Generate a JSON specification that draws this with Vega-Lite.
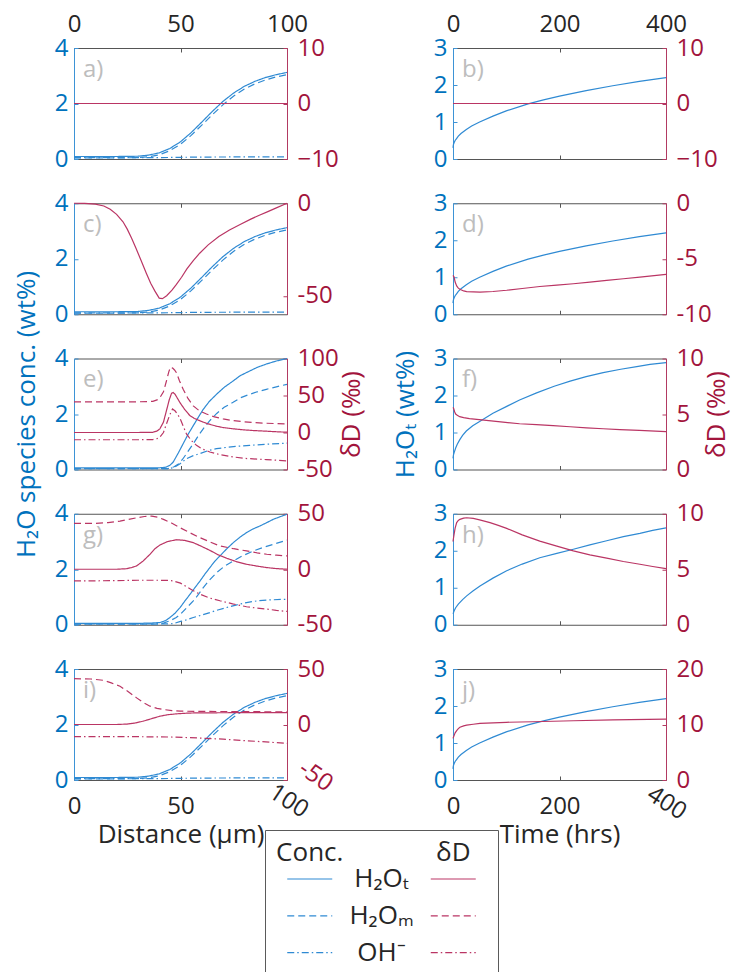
{
  "$schema": "https://vega.github.io/schema/vega-lite/v6.json",
  "background": "white",
  "padding": {"left": 13, "top": 12, "right": 5, "bottom": 5},
  "data": {"values": [
    {"p":"aci","q":"c","s":"H2Ot","x":0,"v":0.09},{"p":"aci","q":"c","s":"H2Ot","x":10,"v":0.09},{"p":"aci","q":"c","s":"H2Ot","x":20,"v":0.09},{"p":"aci","q":"c","s":"H2Ot","x":30,"v":0.1},{"p":"aci","q":"c","s":"H2Ot","x":35,"v":0.14},{"p":"aci","q":"c","s":"H2Ot","x":40,"v":0.22},{"p":"aci","q":"c","s":"H2Ot","x":45,"v":0.38},{"p":"aci","q":"c","s":"H2Ot","x":50,"v":0.62},{"p":"aci","q":"c","s":"H2Ot","x":55,"v":0.95},{"p":"aci","q":"c","s":"H2Ot","x":60,"v":1.33},{"p":"aci","q":"c","s":"H2Ot","x":65,"v":1.72},{"p":"aci","q":"c","s":"H2Ot","x":70,"v":2.08},{"p":"aci","q":"c","s":"H2Ot","x":75,"v":2.38},{"p":"aci","q":"c","s":"H2Ot","x":80,"v":2.62},{"p":"aci","q":"c","s":"H2Ot","x":85,"v":2.8},{"p":"aci","q":"c","s":"H2Ot","x":90,"v":2.94},{"p":"aci","q":"c","s":"H2Ot","x":95,"v":3.04},{"p":"aci","q":"c","s":"H2Ot","x":100,"v":3.12},
    {"p":"aci","q":"c","s":"H2Om","x":0,"v":0.04},{"p":"aci","q":"c","s":"H2Om","x":20,"v":0.04},{"p":"aci","q":"c","s":"H2Om","x":30,"v":0.05},{"p":"aci","q":"c","s":"H2Om","x":35,"v":0.08},{"p":"aci","q":"c","s":"H2Om","x":40,"v":0.15},{"p":"aci","q":"c","s":"H2Om","x":45,"v":0.3},{"p":"aci","q":"c","s":"H2Om","x":50,"v":0.53},{"p":"aci","q":"c","s":"H2Om","x":55,"v":0.85},{"p":"aci","q":"c","s":"H2Om","x":60,"v":1.22},{"p":"aci","q":"c","s":"H2Om","x":65,"v":1.6},{"p":"aci","q":"c","s":"H2Om","x":70,"v":1.96},{"p":"aci","q":"c","s":"H2Om","x":75,"v":2.27},{"p":"aci","q":"c","s":"H2Om","x":80,"v":2.52},{"p":"aci","q":"c","s":"H2Om","x":85,"v":2.71},{"p":"aci","q":"c","s":"H2Om","x":90,"v":2.85},{"p":"aci","q":"c","s":"H2Om","x":95,"v":2.96},{"p":"aci","q":"c","s":"H2Om","x":100,"v":3.04},
    {"p":"aci","q":"c","s":"OH","x":0,"v":0.05},{"p":"aci","q":"c","s":"OH","x":40,"v":0.05},{"p":"aci","q":"c","s":"OH","x":60,"v":0.07},{"p":"aci","q":"c","s":"OH","x":100,"v":0.08},
    {"p":"a","q":"d","s":"H2Ot","x":0,"v":0},{"p":"a","q":"d","s":"H2Ot","x":100,"v":0},
    {"p":"c","q":"d","s":"H2Ot","x":0,"v":0},{"p":"c","q":"d","s":"H2Ot","x":5,"v":-0.1},{"p":"c","q":"d","s":"H2Ot","x":10,"v":-0.5},{"p":"c","q":"d","s":"H2Ot","x":14,"v":-1.5},{"p":"c","q":"d","s":"H2Ot","x":17,"v":-3.2},{"p":"c","q":"d","s":"H2Ot","x":20,"v":-6},{"p":"c","q":"d","s":"H2Ot","x":23,"v":-10},{"p":"c","q":"d","s":"H2Ot","x":25,"v":-14},{"p":"c","q":"d","s":"H2Ot","x":27,"v":-18.8},{"p":"c","q":"d","s":"H2Ot","x":29,"v":-24},{"p":"c","q":"d","s":"H2Ot","x":31.5,"v":-31},{"p":"c","q":"d","s":"H2Ot","x":34,"v":-38},{"p":"c","q":"d","s":"H2Ot","x":36,"v":-43.3},{"p":"c","q":"d","s":"H2Ot","x":38,"v":-47.5},{"p":"c","q":"d","s":"H2Ot","x":40,"v":-51.3},{"p":"c","q":"d","s":"H2Ot","x":41.5,"v":-51.6},{"p":"c","q":"d","s":"H2Ot","x":43.5,"v":-50},{"p":"c","q":"d","s":"H2Ot","x":46,"v":-47},{"p":"c","q":"d","s":"H2Ot","x":48,"v":-44},{"p":"c","q":"d","s":"H2Ot","x":50.5,"v":-40},{"p":"c","q":"d","s":"H2Ot","x":53,"v":-35.5},{"p":"c","q":"d","s":"H2Ot","x":56,"v":-31},{"p":"c","q":"d","s":"H2Ot","x":59,"v":-27},{"p":"c","q":"d","s":"H2Ot","x":63,"v":-22.5},{"p":"c","q":"d","s":"H2Ot","x":68,"v":-18},{"p":"c","q":"d","s":"H2Ot","x":73,"v":-14.5},{"p":"c","q":"d","s":"H2Ot","x":78,"v":-11.5},{"p":"c","q":"d","s":"H2Ot","x":83,"v":-8.6},{"p":"c","q":"d","s":"H2Ot","x":87,"v":-6.5},{"p":"c","q":"d","s":"H2Ot","x":91,"v":-4.5},{"p":"c","q":"d","s":"H2Ot","x":95,"v":-2.5},{"p":"c","q":"d","s":"H2Ot","x":100,"v":0},
    {"p":"e","q":"c","s":"H2Ot","x":0,"v":0.06},{"p":"e","q":"c","s":"H2Ot","x":40,"v":0.06},{"p":"e","q":"c","s":"H2Ot","x":43,"v":0.08},{"p":"e","q":"c","s":"H2Ot","x":45,"v":0.15},{"p":"e","q":"c","s":"H2Ot","x":46.6,"v":0.27},{"p":"e","q":"c","s":"H2Ot","x":49,"v":0.6},{"p":"e","q":"c","s":"H2Ot","x":51.25,"v":0.93},{"p":"e","q":"c","s":"H2Ot","x":53.5,"v":1.26},{"p":"e","q":"c","s":"H2Ot","x":56,"v":1.58},{"p":"e","q":"c","s":"H2Ot","x":58.5,"v":1.9},{"p":"e","q":"c","s":"H2Ot","x":60.6,"v":2.16},{"p":"e","q":"c","s":"H2Ot","x":63.5,"v":2.45},{"p":"e","q":"c","s":"H2Ot","x":66.9,"v":2.71},{"p":"e","q":"c","s":"H2Ot","x":70.5,"v":2.96},{"p":"e","q":"c","s":"H2Ot","x":74.7,"v":3.19},{"p":"e","q":"c","s":"H2Ot","x":78,"v":3.38},{"p":"e","q":"c","s":"H2Ot","x":82.5,"v":3.55},{"p":"e","q":"c","s":"H2Ot","x":86,"v":3.68},{"p":"e","q":"c","s":"H2Ot","x":90.3,"v":3.8},{"p":"e","q":"c","s":"H2Ot","x":95,"v":3.91},{"p":"e","q":"c","s":"H2Ot","x":100,"v":4.0},
    {"p":"e","q":"c","s":"H2Om","x":0,"v":0.03},{"p":"e","q":"c","s":"H2Om","x":44,"v":0.03},{"p":"e","q":"c","s":"H2Om","x":47,"v":0.1},{"p":"e","q":"c","s":"H2Om","x":49,"v":0.2},{"p":"e","q":"c","s":"H2Om","x":51,"v":0.37},{"p":"e","q":"c","s":"H2Om","x":52.8,"v":0.57},{"p":"e","q":"c","s":"H2Om","x":56,"v":0.93},{"p":"e","q":"c","s":"H2Om","x":59,"v":1.29},{"p":"e","q":"c","s":"H2Om","x":61.5,"v":1.55},{"p":"e","q":"c","s":"H2Om","x":63.75,"v":1.76},{"p":"e","q":"c","s":"H2Om","x":67,"v":2.02},{"p":"e","q":"c","s":"H2Om","x":70.5,"v":2.24},{"p":"e","q":"c","s":"H2Om","x":74.7,"v":2.42},{"p":"e","q":"c","s":"H2Om","x":78,"v":2.58},{"p":"e","q":"c","s":"H2Om","x":82.5,"v":2.71},{"p":"e","q":"c","s":"H2Om","x":86,"v":2.8},{"p":"e","q":"c","s":"H2Om","x":90.3,"v":2.89},{"p":"e","q":"c","s":"H2Om","x":95,"v":2.98},{"p":"e","q":"c","s":"H2Om","x":100,"v":3.07},
    {"p":"e","q":"c","s":"OH","x":0,"v":0.03},{"p":"e","q":"c","s":"OH","x":44,"v":0.03},{"p":"e","q":"c","s":"OH","x":47,"v":0.07},{"p":"e","q":"c","s":"OH","x":50,"v":0.22},{"p":"e","q":"c","s":"OH","x":52.8,"v":0.39},{"p":"e","q":"c","s":"OH","x":56,"v":0.5},{"p":"e","q":"c","s":"OH","x":59,"v":0.57},{"p":"e","q":"c","s":"OH","x":63,"v":0.68},{"p":"e","q":"c","s":"OH","x":66.9,"v":0.75},{"p":"e","q":"c","s":"OH","x":72,"v":0.8},{"p":"e","q":"c","s":"OH","x":77,"v":0.84},{"p":"e","q":"c","s":"OH","x":82.5,"v":0.87},{"p":"e","q":"c","s":"OH","x":90,"v":0.91},{"p":"e","q":"c","s":"OH","x":100,"v":0.95},
    {"p":"e","q":"d","s":"H2Ot","x":0,"v":0},{"p":"e","q":"d","s":"H2Ot","x":30,"v":0},{"p":"e","q":"d","s":"H2Ot","x":37,"v":0.3},{"p":"e","q":"d","s":"H2Ot","x":39,"v":2},{"p":"e","q":"d","s":"H2Ot","x":40.3,"v":4.9},{"p":"e","q":"d","s":"H2Ot","x":42,"v":14},{"p":"e","q":"d","s":"H2Ot","x":43.4,"v":29.5},{"p":"e","q":"d","s":"H2Ot","x":44.7,"v":44},{"p":"e","q":"d","s":"H2Ot","x":45.8,"v":53},{"p":"e","q":"d","s":"H2Ot","x":46.6,"v":54},{"p":"e","q":"d","s":"H2Ot","x":47.5,"v":51.5},{"p":"e","q":"d","s":"H2Ot","x":48.5,"v":46.5},{"p":"e","q":"d","s":"H2Ot","x":49.7,"v":40.6},{"p":"e","q":"d","s":"H2Ot","x":52,"v":31},{"p":"e","q":"d","s":"H2Ot","x":54.4,"v":22.8},{"p":"e","q":"d","s":"H2Ot","x":56.5,"v":19},{"p":"e","q":"d","s":"H2Ot","x":59,"v":16},{"p":"e","q":"d","s":"H2Ot","x":62.5,"v":12},{"p":"e","q":"d","s":"H2Ot","x":66.9,"v":8.5},{"p":"e","q":"d","s":"H2Ot","x":70,"v":6.7},{"p":"e","q":"d","s":"H2Ot","x":74.7,"v":5},{"p":"e","q":"d","s":"H2Ot","x":80,"v":3.5},{"p":"e","q":"d","s":"H2Ot","x":85,"v":2.5},{"p":"e","q":"d","s":"H2Ot","x":90.3,"v":1.8},{"p":"e","q":"d","s":"H2Ot","x":95,"v":1},{"p":"e","q":"d","s":"H2Ot","x":100,"v":0.4},
    {"p":"e","q":"d","s":"H2Om","x":0,"v":41.5},{"p":"e","q":"d","s":"H2Om","x":30,"v":41.5},{"p":"e","q":"d","s":"H2Om","x":37,"v":42},{"p":"e","q":"d","s":"H2Om","x":39,"v":44},{"p":"e","q":"d","s":"H2Om","x":40.3,"v":47},{"p":"e","q":"d","s":"H2Om","x":42,"v":55},{"p":"e","q":"d","s":"H2Om","x":43.4,"v":69.6},{"p":"e","q":"d","s":"H2Om","x":44.5,"v":82},{"p":"e","q":"d","s":"H2Om","x":45.3,"v":88.4},{"p":"e","q":"d","s":"H2Om","x":46.3,"v":87},{"p":"e","q":"d","s":"H2Om","x":47.2,"v":84.5},{"p":"e","q":"d","s":"H2Om","x":48.1,"v":80.8},{"p":"e","q":"d","s":"H2Om","x":49.5,"v":70},{"p":"e","q":"d","s":"H2Om","x":51.25,"v":58.5},{"p":"e","q":"d","s":"H2Om","x":53.5,"v":46},{"p":"e","q":"d","s":"H2Om","x":56,"v":36},{"p":"e","q":"d","s":"H2Om","x":59,"v":29},{"p":"e","q":"d","s":"H2Om","x":62.2,"v":25},{"p":"e","q":"d","s":"H2Om","x":66,"v":21},{"p":"e","q":"d","s":"H2Om","x":70,"v":18.5},{"p":"e","q":"d","s":"H2Om","x":74.7,"v":16},{"p":"e","q":"d","s":"H2Om","x":80,"v":14.5},{"p":"e","q":"d","s":"H2Om","x":85,"v":13.3},{"p":"e","q":"d","s":"H2Om","x":90.3,"v":12.5},{"p":"e","q":"d","s":"H2Om","x":100,"v":11.6},
    {"p":"e","q":"d","s":"OH","x":0,"v":-9.8},{"p":"e","q":"d","s":"OH","x":30,"v":-9.8},{"p":"e","q":"d","s":"OH","x":37,"v":-9.5},{"p":"e","q":"d","s":"OH","x":39,"v":-8.3},{"p":"e","q":"d","s":"OH","x":40.3,"v":-6.25},{"p":"e","q":"d","s":"OH","x":42,"v":0},{"p":"e","q":"d","s":"OH","x":43.4,"v":11.6},{"p":"e","q":"d","s":"OH","x":45,"v":24},{"p":"e","q":"d","s":"OH","x":46.25,"v":31.7},{"p":"e","q":"d","s":"OH","x":47.5,"v":29},{"p":"e","q":"d","s":"OH","x":48.5,"v":25},{"p":"e","q":"d","s":"OH","x":49.7,"v":19.6},{"p":"e","q":"d","s":"OH","x":51.2,"v":9},{"p":"e","q":"d","s":"OH","x":52.8,"v":-1.8},{"p":"e","q":"d","s":"OH","x":55,"v":-10.5},{"p":"e","q":"d","s":"OH","x":57.5,"v":-17.4},{"p":"e","q":"d","s":"OH","x":60,"v":-22},{"p":"e","q":"d","s":"OH","x":63.75,"v":-26.3},{"p":"e","q":"d","s":"OH","x":68,"v":-29.5},{"p":"e","q":"d","s":"OH","x":74.7,"v":-33},{"p":"e","q":"d","s":"OH","x":80,"v":-35},{"p":"e","q":"d","s":"OH","x":90.3,"v":-36.6},{"p":"e","q":"d","s":"OH","x":100,"v":-38.4},
    {"p":"g","q":"c","s":"H2Ot","x":0,"v":0.05},{"p":"g","q":"c","s":"H2Ot","x":30,"v":0.05},{"p":"g","q":"c","s":"H2Ot","x":35.7,"v":0.06},{"p":"g","q":"c","s":"H2Ot","x":40.4,"v":0.08},{"p":"g","q":"c","s":"H2Ot","x":43,"v":0.15},{"p":"g","q":"c","s":"H2Ot","x":45,"v":0.26},{"p":"g","q":"c","s":"H2Ot","x":47.5,"v":0.42},{"p":"g","q":"c","s":"H2Ot","x":49.8,"v":0.62},{"p":"g","q":"c","s":"H2Ot","x":52,"v":0.85},{"p":"g","q":"c","s":"H2Ot","x":54.5,"v":1.1},{"p":"g","q":"c","s":"H2Ot","x":56.8,"v":1.34},{"p":"g","q":"c","s":"H2Ot","x":59.2,"v":1.58},{"p":"g","q":"c","s":"H2Ot","x":61.5,"v":1.83},{"p":"g","q":"c","s":"H2Ot","x":63.8,"v":2.06},{"p":"g","q":"c","s":"H2Ot","x":66,"v":2.28},{"p":"g","q":"c","s":"H2Ot","x":68.5,"v":2.48},{"p":"g","q":"c","s":"H2Ot","x":71.5,"v":2.72},{"p":"g","q":"c","s":"H2Ot","x":74.8,"v":2.96},{"p":"g","q":"c","s":"H2Ot","x":78,"v":3.16},{"p":"g","q":"c","s":"H2Ot","x":81,"v":3.32},{"p":"g","q":"c","s":"H2Ot","x":84,"v":3.45},{"p":"g","q":"c","s":"H2Ot","x":87.3,"v":3.56},{"p":"g","q":"c","s":"H2Ot","x":90.5,"v":3.68},{"p":"g","q":"c","s":"H2Ot","x":93.6,"v":3.8},{"p":"g","q":"c","s":"H2Ot","x":97,"v":3.9},{"p":"g","q":"c","s":"H2Ot","x":100,"v":3.98},
    {"p":"g","q":"c","s":"H2Om","x":0,"v":0.02},{"p":"g","q":"c","s":"H2Om","x":38,"v":0.02},{"p":"g","q":"c","s":"H2Om","x":42,"v":0.06},{"p":"g","q":"c","s":"H2Om","x":45,"v":0.14},{"p":"g","q":"c","s":"H2Om","x":48,"v":0.26},{"p":"g","q":"c","s":"H2Om","x":50,"v":0.38},{"p":"g","q":"c","s":"H2Om","x":53,"v":0.62},{"p":"g","q":"c","s":"H2Om","x":56,"v":0.86},{"p":"g","q":"c","s":"H2Om","x":58.5,"v":1.1},{"p":"g","q":"c","s":"H2Om","x":60.7,"v":1.34},{"p":"g","q":"c","s":"H2Om","x":63.5,"v":1.6},{"p":"g","q":"c","s":"H2Om","x":67,"v":1.88},{"p":"g","q":"c","s":"H2Om","x":70.5,"v":2.1},{"p":"g","q":"c","s":"H2Om","x":74.8,"v":2.3},{"p":"g","q":"c","s":"H2Om","x":79,"v":2.48},{"p":"g","q":"c","s":"H2Om","x":84.2,"v":2.66},{"p":"g","q":"c","s":"H2Om","x":89,"v":2.79},{"p":"g","q":"c","s":"H2Om","x":93.6,"v":2.9},{"p":"g","q":"c","s":"H2Om","x":100,"v":3.05},
    {"p":"g","q":"c","s":"OH","x":0,"v":0.03},{"p":"g","q":"c","s":"OH","x":45,"v":0.03},{"p":"g","q":"c","s":"OH","x":47,"v":0.05},{"p":"g","q":"c","s":"OH","x":50,"v":0.12},{"p":"g","q":"c","s":"OH","x":53,"v":0.18},{"p":"g","q":"c","s":"OH","x":56,"v":0.26},{"p":"g","q":"c","s":"OH","x":60,"v":0.35},{"p":"g","q":"c","s":"OH","x":63.8,"v":0.44},{"p":"g","q":"c","s":"OH","x":67.5,"v":0.53},{"p":"g","q":"c","s":"OH","x":71.7,"v":0.62},{"p":"g","q":"c","s":"OH","x":76,"v":0.71},{"p":"g","q":"c","s":"OH","x":81,"v":0.8},{"p":"g","q":"c","s":"OH","x":86,"v":0.86},{"p":"g","q":"c","s":"OH","x":90.5,"v":0.89},{"p":"g","q":"c","s":"OH","x":100,"v":0.92},
    {"p":"g","q":"d","s":"H2Ot","x":0,"v":0},{"p":"g","q":"d","s":"H2Ot","x":20,"v":0},{"p":"g","q":"d","s":"H2Ot","x":24.7,"v":0.5},{"p":"g","q":"d","s":"H2Ot","x":27,"v":1.5},{"p":"g","q":"d","s":"H2Ot","x":29.4,"v":3},{"p":"g","q":"d","s":"H2Ot","x":32.5,"v":7.5},{"p":"g","q":"d","s":"H2Ot","x":35.7,"v":13.5},{"p":"g","q":"d","s":"H2Ot","x":38,"v":18.5},{"p":"g","q":"d","s":"H2Ot","x":40.4,"v":21.9},{"p":"g","q":"d","s":"H2Ot","x":44,"v":25},{"p":"g","q":"d","s":"H2Ot","x":48.2,"v":26.6},{"p":"g","q":"d","s":"H2Ot","x":52,"v":26},{"p":"g","q":"d","s":"H2Ot","x":56,"v":24},{"p":"g","q":"d","s":"H2Ot","x":60,"v":20.5},{"p":"g","q":"d","s":"H2Ot","x":63.8,"v":17},{"p":"g","q":"d","s":"H2Ot","x":67.5,"v":13.2},{"p":"g","q":"d","s":"H2Ot","x":71.7,"v":9.9},{"p":"g","q":"d","s":"H2Ot","x":76,"v":7},{"p":"g","q":"d","s":"H2Ot","x":81,"v":4.5},{"p":"g","q":"d","s":"H2Ot","x":86,"v":2.8},{"p":"g","q":"d","s":"H2Ot","x":90.5,"v":1.5},{"p":"g","q":"d","s":"H2Ot","x":95,"v":0.6},{"p":"g","q":"d","s":"H2Ot","x":100,"v":0},
    {"p":"g","q":"d","s":"H2Om","x":0,"v":41.3},{"p":"g","q":"d","s":"H2Om","x":10,"v":41.3},{"p":"g","q":"d","s":"H2Om","x":16,"v":42},{"p":"g","q":"d","s":"H2Om","x":21.6,"v":43.4},{"p":"g","q":"d","s":"H2Om","x":25.5,"v":44.8},{"p":"g","q":"d","s":"H2Om","x":29.4,"v":46.4},{"p":"g","q":"d","s":"H2Om","x":33,"v":47.5},{"p":"g","q":"d","s":"H2Om","x":36.5,"v":47.9},{"p":"g","q":"d","s":"H2Om","x":39.5,"v":46.8},{"p":"g","q":"d","s":"H2Om","x":42,"v":44.9},{"p":"g","q":"d","s":"H2Om","x":46,"v":41.5},{"p":"g","q":"d","s":"H2Om","x":49.8,"v":37.4},{"p":"g","q":"d","s":"H2Om","x":54.5,"v":32.8},{"p":"g","q":"d","s":"H2Om","x":59.2,"v":28.4},{"p":"g","q":"d","s":"H2Om","x":64,"v":24.5},{"p":"g","q":"d","s":"H2Om","x":68.5,"v":21},{"p":"g","q":"d","s":"H2Om","x":75,"v":18.5},{"p":"g","q":"d","s":"H2Om","x":81,"v":16.5},{"p":"g","q":"d","s":"H2Om","x":86,"v":14.8},{"p":"g","q":"d","s":"H2Om","x":90.5,"v":13.5},{"p":"g","q":"d","s":"H2Om","x":95,"v":12.7},{"p":"g","q":"d","s":"H2Om","x":100,"v":12},
    {"p":"g","q":"d","s":"OH","x":0,"v":-10.5},{"p":"g","q":"d","s":"OH","x":20,"v":-10.3},{"p":"g","q":"d","s":"OH","x":30,"v":-9.9},{"p":"g","q":"d","s":"OH","x":40,"v":-9.9},{"p":"g","q":"d","s":"OH","x":44,"v":-10.1},{"p":"g","q":"d","s":"OH","x":46.6,"v":-10.5},{"p":"g","q":"d","s":"OH","x":50,"v":-12.5},{"p":"g","q":"d","s":"OH","x":52.9,"v":-15.9},{"p":"g","q":"d","s":"OH","x":56,"v":-19.3},{"p":"g","q":"d","s":"OH","x":59.2,"v":-22.5},{"p":"g","q":"d","s":"OH","x":63.5,"v":-25.8},{"p":"g","q":"d","s":"OH","x":68.5,"v":-28.4},{"p":"g","q":"d","s":"OH","x":74.5,"v":-31.2},{"p":"g","q":"d","s":"OH","x":81,"v":-33.8},{"p":"g","q":"d","s":"OH","x":86,"v":-35},{"p":"g","q":"d","s":"OH","x":90.5,"v":-35.9},{"p":"g","q":"d","s":"OH","x":95,"v":-37},{"p":"g","q":"d","s":"OH","x":100,"v":-38},
    {"p":"i","q":"d","s":"H2Om","x":0,"v":41.3},{"p":"i","q":"d","s":"H2Om","x":8,"v":41},{"p":"i","q":"d","s":"H2Om","x":13.8,"v":39.8},{"p":"i","q":"d","s":"H2Om","x":17.5,"v":37.5},{"p":"i","q":"d","s":"H2Om","x":21.6,"v":34.4},{"p":"i","q":"d","s":"H2Om","x":25.5,"v":29.5},{"p":"i","q":"d","s":"H2Om","x":29.4,"v":24},{"p":"i","q":"d","s":"H2Om","x":32.5,"v":19.8},{"p":"i","q":"d","s":"H2Om","x":35.7,"v":16.5},{"p":"i","q":"d","s":"H2Om","x":39,"v":14.5},{"p":"i","q":"d","s":"H2Om","x":42,"v":13.5},{"p":"i","q":"d","s":"H2Om","x":46,"v":12.5},{"p":"i","q":"d","s":"H2Om","x":49.8,"v":12},{"p":"i","q":"d","s":"H2Om","x":60,"v":11.8},{"p":"i","q":"d","s":"H2Om","x":80,"v":11.6},{"p":"i","q":"d","s":"H2Om","x":100,"v":11.4},
    {"p":"i","q":"d","s":"H2Ot","x":0,"v":0},{"p":"i","q":"d","s":"H2Ot","x":20,"v":0},{"p":"i","q":"d","s":"H2Ot","x":25,"v":0.4},{"p":"i","q":"d","s":"H2Ot","x":28.5,"v":1.3},{"p":"i","q":"d","s":"H2Ot","x":32.5,"v":3},{"p":"i","q":"d","s":"H2Ot","x":36.5,"v":5.3},{"p":"i","q":"d","s":"H2Ot","x":40.4,"v":7.5},{"p":"i","q":"d","s":"H2Ot","x":44,"v":8.8},{"p":"i","q":"d","s":"H2Ot","x":48.2,"v":9.6},{"p":"i","q":"d","s":"H2Ot","x":52,"v":10.1},{"p":"i","q":"d","s":"H2Ot","x":56,"v":10.4},{"p":"i","q":"d","s":"H2Ot","x":70,"v":10.6},{"p":"i","q":"d","s":"H2Ot","x":100,"v":10.7},
    {"p":"i","q":"d","s":"OH","x":0,"v":-11},{"p":"i","q":"d","s":"OH","x":30,"v":-11},{"p":"i","q":"d","s":"OH","x":47,"v":-11.3},{"p":"i","q":"d","s":"OH","x":60,"v":-12.3},{"p":"i","q":"d","s":"OH","x":70,"v":-13.2},{"p":"i","q":"d","s":"OH","x":80,"v":-14.5},{"p":"i","q":"d","s":"OH","x":90,"v":-15.7},{"p":"i","q":"d","s":"OH","x":100,"v":-17},
    {"p":"bdj","q":"c","s":"H2Ot","x":0,"v":0.3},{"p":"bdj","q":"c","s":"H2Ot","x":0.5,"v":0.36},{"p":"bdj","q":"c","s":"H2Ot","x":1,"v":0.4},{"p":"bdj","q":"c","s":"H2Ot","x":2,"v":0.44},{"p":"bdj","q":"c","s":"H2Ot","x":4,"v":0.5},{"p":"bdj","q":"c","s":"H2Ot","x":7,"v":0.56},{"p":"bdj","q":"c","s":"H2Ot","x":10,"v":0.62},{"p":"bdj","q":"c","s":"H2Ot","x":15,"v":0.69},{"p":"bdj","q":"c","s":"H2Ot","x":25,"v":0.8},{"p":"bdj","q":"c","s":"H2Ot","x":35,"v":0.89},{"p":"bdj","q":"c","s":"H2Ot","x":50,"v":1.0},{"p":"bdj","q":"c","s":"H2Ot","x":75,"v":1.16},{"p":"bdj","q":"c","s":"H2Ot","x":100,"v":1.3},{"p":"bdj","q":"c","s":"H2Ot","x":141,"v":1.49},{"p":"bdj","q":"c","s":"H2Ot","x":170,"v":1.6},{"p":"bdj","q":"c","s":"H2Ot","x":200,"v":1.7},{"p":"bdj","q":"c","s":"H2Ot","x":250,"v":1.85},{"p":"bdj","q":"c","s":"H2Ot","x":300,"v":1.98},{"p":"bdj","q":"c","s":"H2Ot","x":350,"v":2.1},{"p":"bdj","q":"c","s":"H2Ot","x":400,"v":2.2},
    {"p":"b","q":"d","s":"H2Ot","x":0,"v":0},{"p":"b","q":"d","s":"H2Ot","x":400,"v":0},
    {"p":"d","q":"d","s":"H2Ot","x":0,"v":-6.5},{"p":"d","q":"d","s":"H2Ot","x":2,"v":-6.65},{"p":"d","q":"d","s":"H2Ot","x":4,"v":-7.1},{"p":"d","q":"d","s":"H2Ot","x":6.9,"v":-7.45},{"p":"d","q":"d","s":"H2Ot","x":10,"v":-7.65},{"p":"d","q":"d","s":"H2Ot","x":13,"v":-7.75},{"p":"d","q":"d","s":"H2Ot","x":20,"v":-7.9},{"p":"d","q":"d","s":"H2Ot","x":25.7,"v":-7.96},{"p":"d","q":"d","s":"H2Ot","x":50.7,"v":-8.0},{"p":"d","q":"d","s":"H2Ot","x":75,"v":-7.95},{"p":"d","q":"d","s":"H2Ot","x":100.8,"v":-7.84},{"p":"d","q":"d","s":"H2Ot","x":130,"v":-7.68},{"p":"d","q":"d","s":"H2Ot","x":163,"v":-7.5},{"p":"d","q":"d","s":"H2Ot","x":195,"v":-7.37},{"p":"d","q":"d","s":"H2Ot","x":226,"v":-7.25},{"p":"d","q":"d","s":"H2Ot","x":257,"v":-7.1},{"p":"d","q":"d","s":"H2Ot","x":288.6,"v":-6.95},{"p":"d","q":"d","s":"H2Ot","x":320,"v":-6.8},{"p":"d","q":"d","s":"H2Ot","x":351,"v":-6.65},{"p":"d","q":"d","s":"H2Ot","x":400,"v":-6.4},
    {"p":"f","q":"c","s":"H2Ot","x":0,"v":0.3},{"p":"f","q":"c","s":"H2Ot","x":1,"v":0.4},{"p":"f","q":"c","s":"H2Ot","x":2,"v":0.45},{"p":"f","q":"c","s":"H2Ot","x":5,"v":0.58},{"p":"f","q":"c","s":"H2Ot","x":8,"v":0.68},{"p":"f","q":"c","s":"H2Ot","x":12.5,"v":0.8},{"p":"f","q":"c","s":"H2Ot","x":18,"v":0.92},{"p":"f","q":"c","s":"H2Ot","x":25,"v":1.04},{"p":"f","q":"c","s":"H2Ot","x":37,"v":1.18},{"p":"f","q":"c","s":"H2Ot","x":50,"v":1.3},{"p":"f","q":"c","s":"H2Ot","x":75,"v":1.52},{"p":"f","q":"c","s":"H2Ot","x":100,"v":1.7},{"p":"f","q":"c","s":"H2Ot","x":125,"v":1.88},{"p":"f","q":"c","s":"H2Ot","x":157,"v":2.07},{"p":"f","q":"c","s":"H2Ot","x":190,"v":2.25},{"p":"f","q":"c","s":"H2Ot","x":220,"v":2.39},{"p":"f","q":"c","s":"H2Ot","x":250,"v":2.51},{"p":"f","q":"c","s":"H2Ot","x":282,"v":2.62},{"p":"f","q":"c","s":"H2Ot","x":315,"v":2.71},{"p":"f","q":"c","s":"H2Ot","x":345,"v":2.78},{"p":"f","q":"c","s":"H2Ot","x":370,"v":2.84},{"p":"f","q":"c","s":"H2Ot","x":400,"v":2.89},
    {"p":"f","q":"d","s":"H2Ot","x":0,"v":5.6},{"p":"f","q":"d","s":"H2Ot","x":1.25,"v":5.5},{"p":"f","q":"d","s":"H2Ot","x":3,"v":5.2},{"p":"f","q":"d","s":"H2Ot","x":5,"v":5.0},{"p":"f","q":"d","s":"H2Ot","x":8,"v":4.88},{"p":"f","q":"d","s":"H2Ot","x":12.5,"v":4.76},{"p":"f","q":"d","s":"H2Ot","x":20,"v":4.67},{"p":"f","q":"d","s":"H2Ot","x":31,"v":4.58},{"p":"f","q":"d","s":"H2Ot","x":62.7,"v":4.42},{"p":"f","q":"d","s":"H2Ot","x":94,"v":4.27},{"p":"f","q":"d","s":"H2Ot","x":125,"v":4.12},{"p":"f","q":"d","s":"H2Ot","x":156.7,"v":4.04},{"p":"f","q":"d","s":"H2Ot","x":188,"v":3.95},{"p":"f","q":"d","s":"H2Ot","x":220,"v":3.85},{"p":"f","q":"d","s":"H2Ot","x":250.8,"v":3.75},{"p":"f","q":"d","s":"H2Ot","x":282,"v":3.67},{"p":"f","q":"d","s":"H2Ot","x":313.5,"v":3.6},{"p":"f","q":"d","s":"H2Ot","x":350,"v":3.52},{"p":"f","q":"d","s":"H2Ot","x":400,"v":3.42},
    {"p":"h","q":"c","s":"H2Ot","x":0,"v":0.3},{"p":"h","q":"c","s":"H2Ot","x":1,"v":0.33},{"p":"h","q":"c","s":"H2Ot","x":2,"v":0.37},{"p":"h","q":"c","s":"H2Ot","x":5,"v":0.46},{"p":"h","q":"c","s":"H2Ot","x":10,"v":0.56},{"p":"h","q":"c","s":"H2Ot","x":18,"v":0.68},{"p":"h","q":"c","s":"H2Ot","x":25.7,"v":0.78},{"p":"h","q":"c","s":"H2Ot","x":38,"v":0.92},{"p":"h","q":"c","s":"H2Ot","x":50.7,"v":1.05},{"p":"h","q":"c","s":"H2Ot","x":75,"v":1.26},{"p":"h","q":"c","s":"H2Ot","x":100.8,"v":1.46},{"p":"h","q":"c","s":"H2Ot","x":130,"v":1.64},{"p":"h","q":"c","s":"H2Ot","x":163,"v":1.81},{"p":"h","q":"c","s":"H2Ot","x":195,"v":1.93},{"p":"h","q":"c","s":"H2Ot","x":226,"v":2.04},{"p":"h","q":"c","s":"H2Ot","x":257,"v":2.16},{"p":"h","q":"c","s":"H2Ot","x":288.6,"v":2.27},{"p":"h","q":"c","s":"H2Ot","x":320,"v":2.38},{"p":"h","q":"c","s":"H2Ot","x":351,"v":2.47},{"p":"h","q":"c","s":"H2Ot","x":375,"v":2.55},{"p":"h","q":"c","s":"H2Ot","x":400,"v":2.62},
    {"p":"h","q":"d","s":"H2Ot","x":0,"v":7.5},{"p":"h","q":"d","s":"H2Ot","x":2,"v":8.14},{"p":"h","q":"d","s":"H2Ot","x":4,"v":8.7},{"p":"h","q":"d","s":"H2Ot","x":6.9,"v":9.2},{"p":"h","q":"d","s":"H2Ot","x":10,"v":9.4},{"p":"h","q":"d","s":"H2Ot","x":13,"v":9.5},{"p":"h","q":"d","s":"H2Ot","x":20,"v":9.6},{"p":"h","q":"d","s":"H2Ot","x":25.7,"v":9.64},{"p":"h","q":"d","s":"H2Ot","x":38,"v":9.58},{"p":"h","q":"d","s":"H2Ot","x":50,"v":9.45},{"p":"h","q":"d","s":"H2Ot","x":69.5,"v":9.2},{"p":"h","q":"d","s":"H2Ot","x":85,"v":8.95},{"p":"h","q":"d","s":"H2Ot","x":100.8,"v":8.68},{"p":"h","q":"d","s":"H2Ot","x":130,"v":8.1},{"p":"h","q":"d","s":"H2Ot","x":163,"v":7.54},{"p":"h","q":"d","s":"H2Ot","x":195,"v":7.08},{"p":"h","q":"d","s":"H2Ot","x":226,"v":6.65},{"p":"h","q":"d","s":"H2Ot","x":257,"v":6.3},{"p":"h","q":"d","s":"H2Ot","x":288.6,"v":6.0},{"p":"h","q":"d","s":"H2Ot","x":320,"v":5.7},{"p":"h","q":"d","s":"H2Ot","x":351,"v":5.45},{"p":"h","q":"d","s":"H2Ot","x":375,"v":5.25},{"p":"h","q":"d","s":"H2Ot","x":400,"v":5.06},
    {"p":"j","q":"d","s":"H2Ot","x":0,"v":7.5},{"p":"j","q":"d","s":"H2Ot","x":2,"v":8.0},{"p":"j","q":"d","s":"H2Ot","x":4,"v":8.5},{"p":"j","q":"d","s":"H2Ot","x":6.9,"v":8.9},{"p":"j","q":"d","s":"H2Ot","x":10,"v":9.25},{"p":"j","q":"d","s":"H2Ot","x":13,"v":9.5},{"p":"j","q":"d","s":"H2Ot","x":20,"v":9.75},{"p":"j","q":"d","s":"H2Ot","x":25.7,"v":9.9},{"p":"j","q":"d","s":"H2Ot","x":38,"v":10.05},{"p":"j","q":"d","s":"H2Ot","x":50.7,"v":10.2},{"p":"j","q":"d","s":"H2Ot","x":100,"v":10.4},{"p":"j","q":"d","s":"H2Ot","x":150,"v":10.5},{"p":"j","q":"d","s":"H2Ot","x":226,"v":10.68},{"p":"j","q":"d","s":"H2Ot","x":300,"v":10.82},{"p":"j","q":"d","s":"H2Ot","x":400,"v":10.98},
    {"p":"a","q":"tag","s":"a)"},{"p":"b","q":"tag","s":"b)"},{"p":"c","q":"tag","s":"c)"},{"p":"d","q":"tag","s":"d)"},{"p":"e","q":"tag","s":"e)"},{"p":"f","q":"tag","s":"f)"},{"p":"g","q":"tag","s":"g)"},{"p":"h","q":"tag","s":"h)"},{"p":"i","q":"tag","s":"i)"},{"p":"j","q":"tag","s":"j)"}
  ]},
  "vconcat": [
    {
      "concat": [
        {"width":213,"height":111,"transform":[{"filter":"indexof(datum.p,'a')>=0"}],
         "layer":[
          {"transform":[{"filter":"datum.q==='c'"}],"mark":{"type":"line","color":"#2F8AD3","strokeWidth":1.2},
           "encoding":{"x":{"field":"x","type":"quantitative","scale":{"domain":[0,100],"nice":false},"axis":{"orient":"top","values":[0,50,100],"title":null}},
            "y":{"field":"v","type":"quantitative","scale":{"domain":[0,4],"nice":false},"axis":{"orient":"left","values":[0,2,4],"title":null}},
            "strokeDash":{"field":"s","type":"nominal","scale":{"domain":["H2Ot","H2Om","OH"],"range":[[1,0],[7,4],[7,3,1.5,3]]},"legend":null}}},
          {"transform":[{"filter":"datum.q==='d'"}],"mark":{"type":"line","color":"#BA3564","strokeWidth":1.2},
           "encoding":{"x":{"field":"x","type":"quantitative","axis":{"orient":"bottom","values":[0,50,100],"labels":false,"title":null}},
            "y":{"field":"v","type":"quantitative","scale":{"domain":[-10,10],"nice":false},"axis":{"orient":"right","values":[-10,0,10],"title":null}},
            "strokeDash":{"field":"s","type":"nominal","scale":{"domain":["H2Ot","H2Om","OH"],"range":[[1,0],[7,4],[7,3,1.5,3]]},"legend":null}}},
          {"transform":[{"filter":"datum.q==='tag'"}],"mark":{"type":"text","align":"left","baseline":"middle","color":"#BDBDBD","fontSize":24},
           "encoding":{"x":{"datum":4.2,"type":"quantitative","axis":null},"y":{"datum":3.21,"type":"quantitative","scale":{"domain":[0,4],"nice":false},"axis":null},"text":{"field":"s"}}}
         ],
         "resolve":{"scale":{"y":"independent"},"axis":{"x":"independent","y":"independent"}}},

        {"width":213,"height":111,"transform":[{"filter":"indexof(datum.p,'b')>=0"}],
         "layer":[
          {"transform":[{"filter":"datum.q==='c'"}],"mark":{"type":"line","color":"#2F8AD3","strokeWidth":1.2},
           "encoding":{"x":{"field":"x","type":"quantitative","scale":{"domain":[0,400],"nice":false},"axis":{"orient":"top","values":[0,200,400],"title":null}},
            "y":{"field":"v","type":"quantitative","scale":{"domain":[0,3],"nice":false},"axis":{"orient":"left","values":[0,1,2,3],"title":null}}}},
          {"transform":[{"filter":"datum.q==='d'"}],"mark":{"type":"line","color":"#BA3564","strokeWidth":1.2},
           "encoding":{"x":{"field":"x","type":"quantitative","axis":{"orient":"bottom","values":[0,200,400],"labels":false,"title":null}},
            "y":{"field":"v","type":"quantitative","scale":{"domain":[-10,10],"nice":false},"axis":{"orient":"right","values":[-10,0,10],"title":null}}}},
          {"transform":[{"filter":"datum.q==='tag'"}],"mark":{"type":"text","align":"left","baseline":"middle","color":"#BDBDBD","fontSize":24},
           "encoding":{"x":{"datum":16.9,"type":"quantitative","axis":null},"y":{"datum":2.41,"type":"quantitative","scale":{"domain":[0,3],"nice":false},"axis":null},"text":{"field":"s"}}}
         ],
         "resolve":{"scale":{"y":"independent"},"axis":{"x":"independent","y":"independent"}}},

        {"width":213,"height":111,"transform":[{"filter":"indexof(datum.p,'c')>=0"}],
         "layer":[
          {"transform":[{"filter":"datum.q==='c'"}],"mark":{"type":"line","color":"#2F8AD3","strokeWidth":1.2},
           "encoding":{"x":{"field":"x","type":"quantitative","scale":{"domain":[0,100],"nice":false},"axis":{"orient":"top","values":[0,50,100],"labels":false,"title":null}},
            "y":{"field":"v","type":"quantitative","scale":{"domain":[0,4],"nice":false},"axis":{"orient":"left","values":[0,2,4],"title":null}},
            "strokeDash":{"field":"s","type":"nominal","scale":{"domain":["H2Ot","H2Om","OH"],"range":[[1,0],[7,4],[7,3,1.5,3]]},"legend":null}}},
          {"transform":[{"filter":"datum.q==='d'"}],"mark":{"type":"line","color":"#BA3564","strokeWidth":1.2},
           "encoding":{"x":{"field":"x","type":"quantitative","axis":{"orient":"bottom","values":[0,50,100],"labels":false,"title":null}},
            "y":{"field":"v","type":"quantitative","scale":{"domain":[-60,0],"nice":false},"axis":{"orient":"right","values":[-50,0],"title":null,"labelExpr":"replace(datum.label,'−','-')"}}}},
          {"transform":[{"filter":"datum.q==='tag'"}],"mark":{"type":"text","align":"left","baseline":"middle","color":"#BDBDBD","fontSize":24},
           "encoding":{"x":{"datum":4.2,"type":"quantitative","axis":null},"y":{"datum":3.21,"type":"quantitative","scale":{"domain":[0,4],"nice":false},"axis":null},"text":{"field":"s"}}}
         ],
         "resolve":{"scale":{"y":"independent"},"axis":{"x":"independent","y":"independent"}}},

        {"width":213,"height":111,"transform":[{"filter":"indexof(datum.p,'d')>=0"}],
         "layer":[
          {"transform":[{"filter":"datum.q==='c'"}],"mark":{"type":"line","color":"#2F8AD3","strokeWidth":1.2},
           "encoding":{"x":{"field":"x","type":"quantitative","scale":{"domain":[0,400],"nice":false},"axis":{"orient":"top","values":[0,200,400],"labels":false,"title":null}},
            "y":{"field":"v","type":"quantitative","scale":{"domain":[0,3],"nice":false},"axis":{"orient":"left","values":[0,1,2,3],"title":null}}}},
          {"transform":[{"filter":"datum.q==='d'"}],"mark":{"type":"line","color":"#BA3564","strokeWidth":1.2},
           "encoding":{"x":{"field":"x","type":"quantitative","axis":{"orient":"bottom","values":[0,200,400],"labels":false,"title":null}},
            "y":{"field":"v","type":"quantitative","scale":{"domain":[-10,0],"nice":false},"axis":{"orient":"right","values":[-10,-5,0],"title":null,"labelExpr":"replace(datum.label,'−','-')"}}}},
          {"transform":[{"filter":"datum.q==='tag'"}],"mark":{"type":"text","align":"left","baseline":"middle","color":"#BDBDBD","fontSize":24},
           "encoding":{"x":{"datum":16.9,"type":"quantitative","axis":null},"y":{"datum":2.41,"type":"quantitative","scale":{"domain":[0,3],"nice":false},"axis":null},"text":{"field":"s"}}}
         ],
         "resolve":{"scale":{"y":"independent"},"axis":{"x":"independent","y":"independent"}}},

        {"width":213,"height":111,"transform":[{"filter":"indexof(datum.p,'e')>=0"}],
         "layer":[
          {"transform":[{"filter":"datum.q==='c'"}],"mark":{"type":"line","color":"#2F8AD3","strokeWidth":1.2},
           "encoding":{"x":{"field":"x","type":"quantitative","scale":{"domain":[0,100],"nice":false},"axis":{"orient":"top","values":[0,50,100],"labels":false,"title":null}},
            "y":{"field":"v","type":"quantitative","scale":{"domain":[0,4],"nice":false},"axis":{"orient":"left","values":[0,2,4],"title":"H₂O species conc. (wt%)"}},
            "strokeDash":{"field":"s","type":"nominal","scale":{"domain":["H2Ot","H2Om","OH"],"range":[[1,0],[7,4],[7,3,1.5,3]]},"legend":null}}},
          {"transform":[{"filter":"datum.q==='d'"}],"mark":{"type":"line","color":"#BA3564","strokeWidth":1.2},
           "encoding":{"x":{"field":"x","type":"quantitative","axis":{"orient":"bottom","values":[0,50,100],"labels":false,"title":null}},
            "y":{"field":"v","type":"quantitative","scale":{"domain":[-50,100],"nice":false},"axis":{"orient":"right","values":[-50,0,50,100],"title":"δD (‰)","labelExpr":"replace(datum.label,'−','-')"}},
            "strokeDash":{"field":"s","type":"nominal","scale":{"domain":["H2Ot","H2Om","OH"],"range":[[1,0],[7,4],[7,3,1.5,3]]},"legend":null}}},
          {"transform":[{"filter":"datum.q==='tag'"}],"mark":{"type":"text","align":"left","baseline":"middle","color":"#BDBDBD","fontSize":24},
           "encoding":{"x":{"datum":4.2,"type":"quantitative","axis":null},"y":{"datum":3.21,"type":"quantitative","scale":{"domain":[0,4],"nice":false},"axis":null},"text":{"field":"s"}}}
         ],
         "resolve":{"scale":{"y":"independent"},"axis":{"x":"independent","y":"independent"}}},

        {"width":213,"height":111,"transform":[{"filter":"indexof(datum.p,'f')>=0"}],
         "layer":[
          {"transform":[{"filter":"datum.q==='c'"}],"mark":{"type":"line","color":"#2F8AD3","strokeWidth":1.2},
           "encoding":{"x":{"field":"x","type":"quantitative","scale":{"domain":[0,400],"nice":false},"axis":{"orient":"top","values":[0,200,400],"labels":false,"title":null}},
            "y":{"field":"v","type":"quantitative","scale":{"domain":[0,3],"nice":false},"axis":{"orient":"left","values":[0,1,2,3],"title":"H₂Oₜ (wt%)"}}}},
          {"transform":[{"filter":"datum.q==='d'"}],"mark":{"type":"line","color":"#BA3564","strokeWidth":1.2},
           "encoding":{"x":{"field":"x","type":"quantitative","axis":{"orient":"bottom","values":[0,200,400],"labels":false,"title":null}},
            "y":{"field":"v","type":"quantitative","scale":{"domain":[0,10],"nice":false},"axis":{"orient":"right","values":[0,5,10],"title":"δD (‰)"}}}},
          {"transform":[{"filter":"datum.q==='tag'"}],"mark":{"type":"text","align":"left","baseline":"middle","color":"#BDBDBD","fontSize":24},
           "encoding":{"x":{"datum":16.9,"type":"quantitative","axis":null},"y":{"datum":2.41,"type":"quantitative","scale":{"domain":[0,3],"nice":false},"axis":null},"text":{"field":"s"}}}
         ],
         "resolve":{"scale":{"y":"independent"},"axis":{"x":"independent","y":"independent"}}},

        {"width":213,"height":111,"transform":[{"filter":"indexof(datum.p,'g')>=0"}],
         "layer":[
          {"transform":[{"filter":"datum.q==='c'"}],"mark":{"type":"line","color":"#2F8AD3","strokeWidth":1.2},
           "encoding":{"x":{"field":"x","type":"quantitative","scale":{"domain":[0,100],"nice":false},"axis":{"orient":"top","values":[0,50,100],"labels":false,"title":null}},
            "y":{"field":"v","type":"quantitative","scale":{"domain":[0,4],"nice":false},"axis":{"orient":"left","values":[0,2,4],"title":null}},
            "strokeDash":{"field":"s","type":"nominal","scale":{"domain":["H2Ot","H2Om","OH"],"range":[[1,0],[7,4],[7,3,1.5,3]]},"legend":null}}},
          {"transform":[{"filter":"datum.q==='d'"}],"mark":{"type":"line","color":"#BA3564","strokeWidth":1.2},
           "encoding":{"x":{"field":"x","type":"quantitative","axis":{"orient":"bottom","values":[0,50,100],"labels":false,"title":null}},
            "y":{"field":"v","type":"quantitative","scale":{"domain":[-50,50],"nice":false},"axis":{"orient":"right","values":[-50,0,50],"title":null,"labelExpr":"replace(datum.label,'−','-')"}},
            "strokeDash":{"field":"s","type":"nominal","scale":{"domain":["H2Ot","H2Om","OH"],"range":[[1,0],[7,4],[7,3,1.5,3]]},"legend":null}}},
          {"transform":[{"filter":"datum.q==='tag'"}],"mark":{"type":"text","align":"left","baseline":"middle","color":"#BDBDBD","fontSize":24},
           "encoding":{"x":{"datum":4.2,"type":"quantitative","axis":null},"y":{"datum":3.21,"type":"quantitative","scale":{"domain":[0,4],"nice":false},"axis":null},"text":{"field":"s"}}}
         ],
         "resolve":{"scale":{"y":"independent"},"axis":{"x":"independent","y":"independent"}}},

        {"width":213,"height":111,"transform":[{"filter":"indexof(datum.p,'h')>=0"}],
         "layer":[
          {"transform":[{"filter":"datum.q==='c'"}],"mark":{"type":"line","color":"#2F8AD3","strokeWidth":1.2},
           "encoding":{"x":{"field":"x","type":"quantitative","scale":{"domain":[0,400],"nice":false},"axis":{"orient":"top","values":[0,200,400],"labels":false,"title":null}},
            "y":{"field":"v","type":"quantitative","scale":{"domain":[0,3],"nice":false},"axis":{"orient":"left","values":[0,1,2,3],"title":null}}}},
          {"transform":[{"filter":"datum.q==='d'"}],"mark":{"type":"line","color":"#BA3564","strokeWidth":1.2},
           "encoding":{"x":{"field":"x","type":"quantitative","axis":{"orient":"bottom","values":[0,200,400],"labels":false,"title":null}},
            "y":{"field":"v","type":"quantitative","scale":{"domain":[0,10],"nice":false},"axis":{"orient":"right","values":[0,5,10],"title":null}}}},
          {"transform":[{"filter":"datum.q==='tag'"}],"mark":{"type":"text","align":"left","baseline":"middle","color":"#BDBDBD","fontSize":24},
           "encoding":{"x":{"datum":16.9,"type":"quantitative","axis":null},"y":{"datum":2.41,"type":"quantitative","scale":{"domain":[0,3],"nice":false},"axis":null},"text":{"field":"s"}}}
         ],
         "resolve":{"scale":{"y":"independent"},"axis":{"x":"independent","y":"independent"}}},

        {"width":213,"height":111,"transform":[{"filter":"indexof(datum.p,'i')>=0"}],
         "layer":[
          {"transform":[{"filter":"datum.q==='c'"}],"mark":{"type":"line","color":"#2F8AD3","strokeWidth":1.2},
           "encoding":{"x":{"field":"x","type":"quantitative","scale":{"domain":[0,100],"nice":false},"axis":{"orient":"top","values":[0,50,100],"labels":false,"title":null}},
            "y":{"field":"v","type":"quantitative","scale":{"domain":[0,4],"nice":false},"axis":{"orient":"left","values":[0,2,4],"title":null}},
            "strokeDash":{"field":"s","type":"nominal","scale":{"domain":["H2Ot","H2Om","OH"],"range":[[1,0],[7,4],[7,3,1.5,3]]},"legend":null}}},
          {"transform":[{"filter":"datum.q==='d'"}],"mark":{"type":"line","color":"#BA3564","strokeWidth":1.2},
           "encoding":{"x":{"field":"x","type":"quantitative","axis":{"orient":"bottom","values":[0,50,100],"title":"Distance (µm)","labelExpr":"datum.value===100 ? '' : datum.label"}},
            "y":{"field":"v","type":"quantitative","scale":{"domain":[-50,50],"nice":false},"axis":{"orient":"right","values":[-50,0,50],"title":null,"labelExpr":"datum.value===-50 ? '' : datum.label"}},
            "strokeDash":{"field":"s","type":"nominal","scale":{"domain":["H2Ot","H2Om","OH"],"range":[[1,0],[7,4],[7,3,1.5,3]]},"legend":null}}},
          {"transform":[{"filter":"datum.q==='tag'"}],"mark":{"type":"text","align":"left","baseline":"middle","color":"#BDBDBD","fontSize":24},
           "encoding":{"x":{"datum":4.2,"type":"quantitative","axis":{"orient":"bottom","values":[100],"title":null,"domain":false,"ticks":false,"tickSize":0,"labelAngle":33,"labelAlign":"center","labelBaseline":"middle","labelPadding":21,"labelOffset":1}},
            "y":{"datum":30.2,"type":"quantitative","scale":{"domain":[-50,50],"nice":false},"axis":{"orient":"right","values":[-50],"title":null,"domain":false,"ticks":false,"tickSize":0,"labelAngle":35,"labelAlign":"center","labelBaseline":"middle","labelPadding":28,"labelOffset":-4,"labelExpr":"replace(datum.label,'−','-')"}},
            "text":{"field":"s"}}}
         ],
         "resolve":{"scale":{"y":"independent"},"axis":{"x":"independent","y":"independent"}}},

        {"width":213,"height":111,"transform":[{"filter":"indexof(datum.p,'j')>=0"}],
         "layer":[
          {"transform":[{"filter":"datum.q==='c'"}],"mark":{"type":"line","color":"#2F8AD3","strokeWidth":1.2},
           "encoding":{"x":{"field":"x","type":"quantitative","scale":{"domain":[0,400],"nice":false},"axis":{"orient":"top","values":[0,200,400],"labels":false,"title":null}},
            "y":{"field":"v","type":"quantitative","scale":{"domain":[0,3],"nice":false},"axis":{"orient":"left","values":[0,1,2,3],"title":null}}}},
          {"transform":[{"filter":"datum.q==='d'"}],"mark":{"type":"line","color":"#BA3564","strokeWidth":1.2},
           "encoding":{"x":{"field":"x","type":"quantitative","axis":{"orient":"bottom","values":[0,200,400],"title":"Time (hrs)","labelExpr":"datum.value===400 ? '' : datum.label"}},
            "y":{"field":"v","type":"quantitative","scale":{"domain":[0,20],"nice":false},"axis":{"orient":"right","values":[0,10,20],"title":null}}}},
          {"transform":[{"filter":"datum.q==='tag'"}],"mark":{"type":"text","align":"left","baseline":"middle","color":"#BDBDBD","fontSize":24},
           "encoding":{"x":{"datum":16.9,"type":"quantitative","axis":{"orient":"bottom","values":[400],"title":null,"domain":false,"ticks":false,"tickSize":0,"labelAngle":33,"labelAlign":"center","labelBaseline":"middle","labelPadding":23}},
            "y":{"datum":2.41,"type":"quantitative","scale":{"domain":[0,3],"nice":false},"axis":null},"text":{"field":"s"}}}
         ],
         "resolve":{"scale":{"y":"independent"},"axis":{"x":"independent","y":"independent"}}}
      ],
      "columns": 2,
      "spacing": {"row": 44.25, "column": 166},
      "bounds": "flush"
    },
    {
      "hconcat": [
        {"width":191,"height":10,"data":{"values":[]},"mark":"point"},
        {"width":233,"height":150,
         "view":{"stroke":"#5A5A5A","strokeWidth":1},
         "data":{"values":[
           {"k":"Conc.","s":"hdr","t":"Conc."},{"k":"δD","s":"hdr","t":"δD"},
           {"k":"lab","s":"H2Ot","t":"H₂Oₜ"},{"k":"lab","s":"H2Om","t":"H₂Oₘ"},{"k":"lab","s":"OH","t":"OH⁻"},
           {"k":"Conc.","s":"H2Ot"},{"k":"Conc.","s":"H2Om"},{"k":"Conc.","s":"OH"},
           {"k":"δD","s":"H2Ot"},{"k":"δD","s":"H2Om"},{"k":"δD","s":"OH"}
         ]},
         "encoding":{
           "y":{"field":"s","type":"nominal","scale":{"type":"point","domain":["hdr","H2Ot","H2Om","OH"],"padding":0.538,"align":0.308},"axis":null}
         },
         "layer":[
          {"transform":[{"filter":"datum.s!=='hdr' && datum.k!=='lab'"}],
           "mark":{"type":"rule","strokeWidth":1.2},
           "encoding":{
             "x":{"field":"k","type":"nominal","bandPosition":0,"scale":{"type":"band","domain":["Conc.","lab","δD"],"paddingInner":0.373,"paddingOuter":0.31},"axis":null},
             "x2":{"field":"k","bandPosition":1},
             "color":{"field":"k","type":"nominal","scale":{"domain":["Conc.","δD"],"range":["#2F8AD3","#BA3564"]},"legend":null},
             "strokeDash":{"field":"s","type":"nominal","scale":{"domain":["H2Ot","H2Om","OH"],"range":[[1,0],[7,4],[7,3,1.5,3]]},"legend":null}}},
          {"transform":[{"filter":"datum.s==='hdr'"}],
           "mark":{"type":"text","fontSize":26,"color":"#262626","dy":10.5},
           "encoding":{"x":{"field":"k","type":"nominal","axis":null},"text":{"field":"t"}}},
          {"transform":[{"filter":"datum.k==='lab'"}],
           "mark":{"type":"text","fontSize":26,"color":"#262626"},
           "encoding":{"x":{"field":"k","type":"nominal","axis":null},"text":{"field":"t"}}}
         ]}
      ],
      "spacing": 0,
      "bounds": "flush"
    }
  ],
  "spacing": 782,
  "bounds": "flush",
  "config": {
    "view": {"stroke": null},
    "font": "Open Sans",
    "text": {"font": "Open Sans"},
    "axis": {"labelFont": "Open Sans", "titleFont": "Open Sans", "labelFontSize": 24, "titleFontSize": 26, "titleFontWeight": "normal", "grid": false, "tickSize": -4, "labelFlush": false, "labelOverlap": false, "labelBound": false, "domainWidth": 1, "tickWidth": 1},
    "axisLeft": {"labelColor": "#0072BD", "domainColor": "#3D93D6", "tickColor": "#3D93D6", "titleColor": "#0072BD", "labelPadding": 10, "titlePadding": 15},
    "axisRight": {"labelColor": "#A2143C", "domainColor": "#B23A62", "tickColor": "#B23A62", "titleColor": "#A2143C", "labelPadding": 14, "titlePadding": 0, "titleAngle": -90, "titleBaseline": "top"},
    "axisTop": {"labelColor": "#262626", "domainColor": "#555555", "tickColor": "#555555", "labelPadding": 16},
    "axisBottom": {"labelColor": "#262626", "domainColor": "#555555", "tickColor": "#555555", "labelPadding": 18, "titleColor": "#262626", "titlePadding": 3}
  }
}
